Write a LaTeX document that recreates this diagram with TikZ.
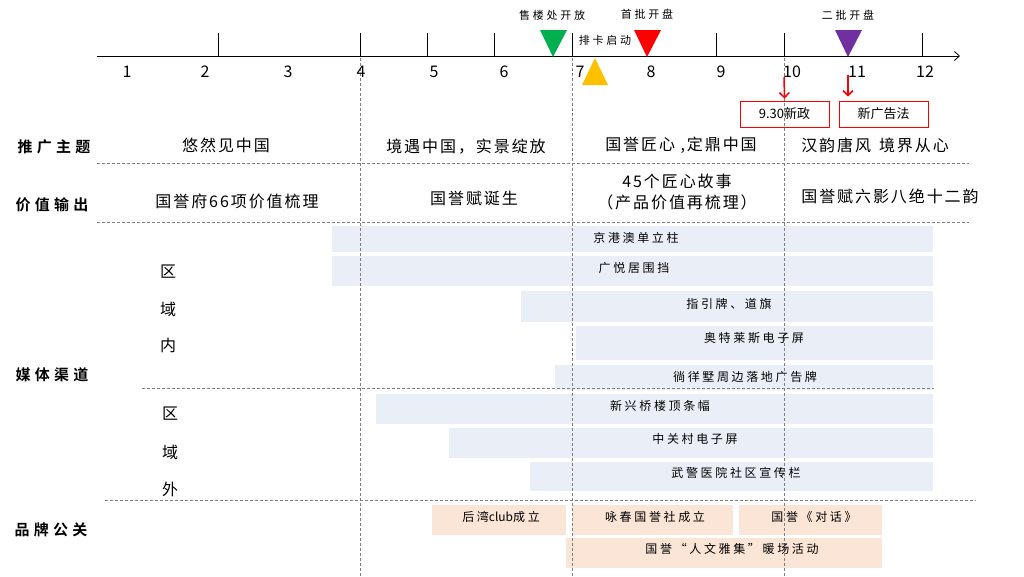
\documentclass[tikz,border=0pt]{standalone}
\usepackage{fontspec}
\setmainfont{Noto Sans CJK SC}[BoldFont={Noto Sans CJK SC Bold}]
\newfontfamily\wideA{Noto Sans CJK SC}[LetterSpace=12]
\newfontfamily\wideB{Noto Sans CJK SC}[LetterSpace=22]
\newfontfamily\wideC{Noto Sans CJK SC Bold}[LetterSpace=28]
\newfontfamily\wideD{Noto Sans CJK SC}[LetterSpace=25]
\usetikzlibrary{calc,arrows.meta}
\definecolor{barblue}{HTML}{EAEFF7}
\definecolor{barpeach}{HTML}{FBE5D6}
\definecolor{tgreen}{HTML}{00B050}
\definecolor{tred}{HTML}{FF0000}
\definecolor{tpurple}{HTML}{7030A0}
\definecolor{tyellow}{HTML}{FFC000}
\definecolor{divgray}{HTML}{7F7F7F}

\begin{document}
\begin{tikzpicture}[x=1pt,y=-1pt,inner sep=0pt,
  divline/.style={divgray,dash pattern=on 3pt off 2pt,line width=0.6pt},
  rowhead/.style={font=\wideC\fontsize{15}{17}\selectfont},
  topic/.style={font=\wideA\fontsize{16}{21}\selectfont},
  chan/.style={font=\wideB\fontsize{12}{14}\selectfont},
  evt/.style={font=\wideD\fontsize{11}{13}\selectfont},
  news/.style={draw=tred,line width=0.8pt,minimum width=89pt,minimum height=26pt,
    font=\fontsize{13}{15}\selectfont},
  redarrow/.style={tred,line width=1.5pt,-{Straight Barb[length=5pt,width=10pt]}}]
\useasboundingbox (0,0) rectangle (1024,576);

% bars
\fill[barblue] (332,226) rectangle (933,252);
\fill[barblue] (332,256) rectangle (933,286);
\fill[barblue] (521,291) rectangle (933,322);
\fill[barblue] (576,326) rectangle (933,360);
\fill[barblue] (555,365) rectangle (933,390);
\fill[barblue] (376,394) rectangle (933,424);
\fill[barblue] (449,428) rectangle (933,458);
\fill[barblue] (530,462) rectangle (933,491);
\fill[barpeach] (432,505) rectangle (566,535);
\fill[barpeach] (572,505) rectangle (733,535);
\fill[barpeach] (739,505) rectangle (882,535);
\fill[barpeach] (566,538) rectangle (882,568);

% dividers
\draw[divline] (360,58) -- (360,576);
\draw[divline] (572,58) -- (572,576);
\draw[divline] (784,58) -- (784,576);
\draw[divline] (97,163) -- (969,163);
\draw[divline] (97,222) -- (969,222);
\draw[divline] (142,388) -- (934,388);
\draw[divline] (105,500) -- (976,500);

% timeline
\coordinate (ax0) at (97,56);
\coordinate (ax1) at (960,56);
\draw[line width=0.8pt,-{Straight Barb[length=5pt,width=9pt]}] (ax0) -- (ax1);
\foreach \x in {218,360,427,494,572,716,784,922}
  \draw[line width=0.8pt] (\x,33) -- (\x,56);
\foreach \n/\x in {1/127,2/205,3/288,4/361,5/434,6/504,7/580,8/651,9/721,10/792,11/857,12/925}
  \node[font=\fontsize{16}{18}\selectfont] (n\n) at (\x,72) {\n};

\fill[tgreen] (540,30) -- (567,30) -- (553,57) -- cycle;
\fill[tred] (634,30) -- (661,30) -- (647,57) -- cycle;
\fill[tpurple] (835,30) -- (862,30) -- (848,57) -- cycle;
\fill[tyellow] (582,85) -- (608,85) -- (595,58) -- cycle;
\node[evt] (e1) at (552,15) {售楼处开放};
\node[evt] (e2) at (647,14) {首批开盘};
\node[evt] (e3) at (848,15) {二批开盘};
\node[evt] (e4) at (605,40) {排卡启动};

\node[news] (b1) at (784.5,114) {9.30新政};
\node[news] (b2) at (883.5,114) {新广告法};
\coordinate (c1) at (784,77);
\coordinate (c2) at (848,75);
\draw[redarrow] (c1) -- ($(b1.north)+(0,-2)$);
\draw[redarrow] (c2) -- ($(c2 |- b2.north)+(0,-4)$);

% row heads
\node[rowhead] (r1) at (54,147) {推广主题};
\node[rowhead] (r2) at (52,205) {价值输出};
\node[rowhead] (r3) at (52,375) {媒体渠道};
\node[rowhead] (r4) at (51,530) {品牌公关};
\foreach \c/\y [count=\i] in {区/272,域/309,内/345}
  \node[topic] (in\i) at (168,\y) {\c};
\foreach \c/\y [count=\i] in {区/414,域/452,外/489}
  \node[topic] (out\i) at (170,\y) {\c};

% themes and values
\node[topic] (t1) at (226,145) {悠然见中国};
\node[topic] (t2) at (466,147) {境遇中国，实景绽放};
\node[topic] (t3) at (681,145) {国誉匠心 ,定鼎中国};
\node[topic] (t4) at (875,145) {汉韵唐风\hspace{0.5em}境界从心};
\node[topic] (v1) at (237,201) {国誉府66项价值梳理};
\node[topic] (v2) at (474,198) {国誉赋诞生};
\node[topic,align=center] (v3) at (677,192) {45个匠心故事\\（产品价值再梳理）};
\node[topic] (v4) at (890,196) {国誉赋六影八绝十二韵};

% channels
\node[chan] (m1) at (636,238) {京港澳单立柱};
\node[chan] (m2) at (634,268) {广悦居围挡};
\node[chan] (m3) at (729,304) {指引牌、道旗};
\node[chan] (m4) at (754,338) {奥特莱斯电子屏};
\node[chan] (m5) at (745,377) {徜徉墅周边落地广告牌};
\node[chan] (m6) at (660,406) {新兴桥楼顶条幅};
\node[chan] (m7) at (695,439) {中关村电子屏};
\node[chan] (m8) at (736,473) {武警医院社区宣传栏};

% PR
\node[chan] (p1) at (501,517) {后湾{\normalfont\fontsize{12}{14}\selectfont club}成立};
\node[chan] (p2) at (655,517) {咏春国誉社成立};
\node[chan] (p3) at (814,517) {国誉《对话》};
\node[chan] (p4) at (732,549) {国誉“人文雅集”暖场活动};
\end{tikzpicture}
\end{document}
